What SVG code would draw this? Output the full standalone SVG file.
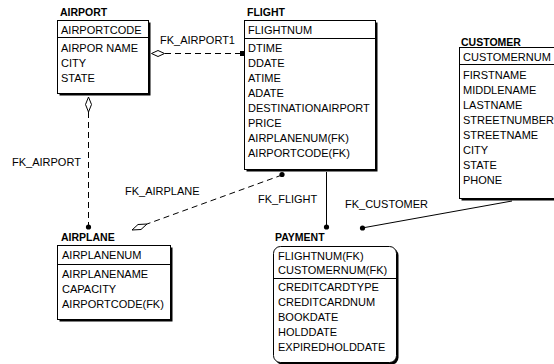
<svg xmlns="http://www.w3.org/2000/svg" width="554" height="364" viewBox="0 0 554 364">
<style>
text{font-family:"Liberation Sans",Arial,sans-serif;font-size:11px;fill:#000}
.t{font-weight:bold;font-size:10.5px}
.box{fill:#fff;stroke:#000;stroke-width:1}
.sh{fill:#000}
.div{stroke:#000;stroke-width:1}
.dash{stroke:#000;stroke-width:1;fill:none;stroke-dasharray:6 4}
.sol{stroke:#000;stroke-width:1;fill:none}
.dia{fill:#fff;stroke:#000;stroke-width:1}
.dot{fill:#000}
</style>
<rect width="554" height="364" fill="#fff"/>
<g id="connectors">
  <!-- FK_AIRPORT1 -->
  <line class="dash" x1="165" y1="53.5" x2="240" y2="53.5"/>
  <polygon class="dia" points="151.5,53.5 158,50.5 164.5,53.5 158,56.5"/>
  <rect class="dot" x="240" y="51" width="4" height="5"/>
  <text x="160" y="44">FK_AIRPORT1</text>
  <!-- FK_AIRPORT -->
  <line class="dash" x1="88.5" y1="112" x2="88.5" y2="225"/>
  <polygon class="dia" points="88.5,97 91.5,104.5 88.5,112 85.5,104.5"/>
  <circle class="dot" cx="88.5" cy="227" r="2.6"/>
  <text x="12" y="166">FK_AIRPORT</text>
  <!-- FK_AIRPLANE -->
  <line class="dash" x1="282" y1="175" x2="147" y2="224"/>
  <polygon class="dia" points="147,224 141,229.5 132,230 138,224.5"/>
  <circle class="dot" cx="282" cy="174.5" r="2.6"/>
  <text x="125" y="195">FK_AIRPLANE</text>
  <!-- FK_FLIGHT -->
  <line class="sol" x1="326.5" y1="172" x2="326.5" y2="226"/>
  <circle class="dot" cx="326.5" cy="227" r="2.6"/>
  <text x="258" y="203">FK_FLIGHT</text>
  <!-- FK_CUSTOMER -->
  <line class="sol" x1="512" y1="201" x2="362" y2="228"/>
  <circle class="dot" cx="362.5" cy="228" r="2.6"/>
  <text x="345" y="208">FK_CUSTOMER</text>
</g>
<g id="airport">
  <text class="t" x="60" y="16">AIRPORT</text>
  <rect class="sh" x="59.5" y="22.5" width="91" height="73"/>
  <rect class="box" x="57.5" y="20.5" width="91" height="73"/>
  <line class="div" x1="57.5" y1="37.5" x2="148.5" y2="37.5"/>
  <text x="61" y="33.5">AIRPORTCODE</text>
  <text x="61" y="52">AIRPOR NAME</text>
  <text x="61" y="67">CITY</text>
  <text x="61" y="82">STATE</text>
</g>
<g id="flight">
  <text class="t" x="247" y="16">FLIGHT</text>
  <rect class="sh" x="246.5" y="22.5" width="131" height="149"/>
  <rect class="box" x="244.5" y="20.5" width="131" height="149"/>
  <line class="div" x1="244.5" y1="38.5" x2="375.5" y2="38.5"/>
  <text x="248" y="33.5">FLIGHTNUM</text>
  <text x="248" y="52">DTIME</text>
  <text x="248" y="67">DDATE</text>
  <text x="248" y="82">ATIME</text>
  <text x="248" y="97">ADATE</text>
  <text x="248" y="112">DESTINATIONAIRPORT</text>
  <text x="248" y="127">PRICE</text>
  <text x="248" y="142">AIRPLANENUM(FK)</text>
  <text x="248" y="157">AIRPORTCODE(FK)</text>
</g>
<g id="customer">
  <text class="t" x="461" y="46">CUSTOMER</text>
  <rect class="sh" x="461.5" y="49.5" width="100" height="151"/>
  <rect class="box" x="459.5" y="47.5" width="100" height="151"/>
  <line class="div" x1="459.5" y1="64.5" x2="559.5" y2="64.5"/>
  <text x="463" y="60.5">CUSTOMERNUM</text>
  <text x="463" y="79">FIRSTNAME</text>
  <text x="463" y="94">MIDDLENAME</text>
  <text x="463" y="109">LASTNAME</text>
  <text x="463" y="124">STREETNUMBER</text>
  <text x="463" y="139">STREETNAME</text>
  <text x="463" y="154">CITY</text>
  <text x="463" y="169">STATE</text>
  <text x="463" y="184">PHONE</text>
</g>
<g id="airplane">
  <text class="t" x="61" y="241">AIRPLANE</text>
  <rect class="sh" x="59.5" y="247.5" width="113" height="74"/>
  <rect class="box" x="57.5" y="245.5" width="113" height="74"/>
  <line class="div" x1="57.5" y1="264.5" x2="170.5" y2="264.5"/>
  <text x="62" y="259">AIRPLANENUM</text>
  <text x="62" y="278">AIRPLANENAME</text>
  <text x="62" y="293">CAPACITY</text>
  <text x="62" y="308">AIRPORTCODE(FK)</text>
</g>
<g id="payment">
  <text class="t" x="275" y="241">PAYMENT</text>
  <rect class="sh" x="275.5" y="248.5" width="123" height="116" rx="7"/>
  <rect class="box" x="273.5" y="246.5" width="123" height="116" rx="7"/>
  <line class="div" x1="273.5" y1="278.5" x2="396.5" y2="278.5"/>
  <text x="278" y="260">FLIGHTNUM(FK)</text>
  <text x="278" y="274">CUSTOMERNUM(FK)</text>
  <text x="278" y="291">CREDITCARDTYPE</text>
  <text x="278" y="306">CREDITCARDNUM</text>
  <text x="278" y="321">BOOKDATE</text>
  <text x="278" y="336">HOLDDATE</text>
  <text x="278" y="351">EXPIREDHOLDDATE</text>
</g>
</svg>
